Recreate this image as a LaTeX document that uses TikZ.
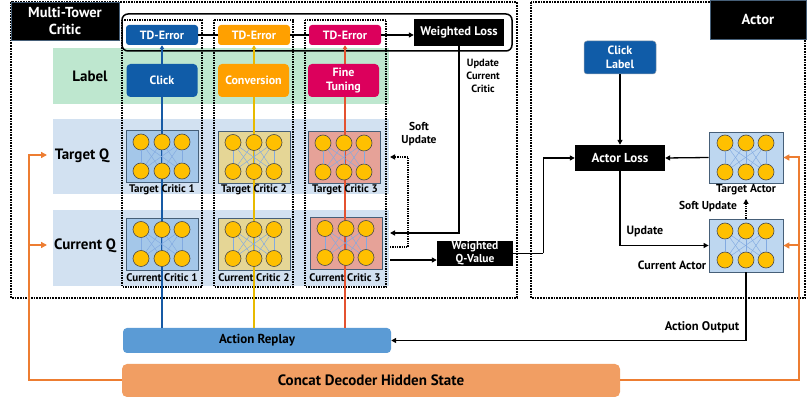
\documentclass[tikz,border=0pt]{standalone}
\usepackage{fontspec}
\setmainfont{PT Sans}
\usetikzlibrary{arrows.meta,calc}

\definecolor{clickblue}{RGB}{16,92,168}
\definecolor{convorange}{RGB}{255,160,0}
\definecolor{finepink}{RGB}{220,0,92}
\definecolor{labelgreen}{RGB}{190,231,207}
\definecolor{bandblue}{RGB}{210,225,241}
\definecolor{nnblue}{RGB}{164,199,233}
\definecolor{nntan}{RGB}{229,214,150}
\definecolor{nnpink}{RGB}{230,162,152}
\definecolor{nnactor}{RGB}{190,215,240}
\definecolor{neuronfill}{RGB}{255,192,0}
\definecolor{wireblue}{RGB}{130,170,225}
\definecolor{replayblue}{RGB}{91,155,213}
\definecolor{concatorange}{RGB}{241,158,99}
\definecolor{feedorange}{RGB}{237,125,49}
\definecolor{towerblue}{RGB}{22,90,165}
\definecolor{toweryellow}{RGB}{232,186,0}
\definecolor{towerred}{RGB}{228,82,48}
\definecolor{nnedge}{RGB}{70,95,120}

% six neurons in two fully connected rows inside a network box
\newcommand{\neurons}[1]{%
  \foreach \dx [count=\i] in {-21,0,20}{%
    \node[neuron] (#1t\i) at ($(#1.center)+(\dx,-14.5)$) {};
    \node[neuron] (#1b\i) at ($(#1.center)+(\dx,14.5)$) {};
  }%
  \foreach \i in {1,2,3}{\foreach \j in {1,2,3}{\draw[wire] (#1t\i) -- (#1b\j);}}%
}

\begin{document}
\begin{tikzpicture}[x=1pt,y=-1pt,
  fs/.style={font=\fontsize{#1}{13}\selectfont\bfseries},
  f10/.style={font=\fontsize{10.5}{13}\selectfont\bfseries},
  f11/.style={font=\fontsize{11}{13}\selectfont\bfseries},
  f12/.style={font=\fontsize{12}{13.5}\selectfont\bfseries},
  f13/.style={font=\fontsize{13}{15}\selectfont\bfseries},
  f14/.style={font=\fontsize{14.5}{17}\selectfont\bfseries},
  f15/.style={font=\fontsize{15}{17}\selectfont\bfseries},
  boxbase/.style={rectangle, inner sep=0pt, align=center, text=white},
  titlebox/.style={boxbase, fill=black, draw=nnedge, line width=0.6pt, f14},
  blackbox/.style={boxbase, fill=black},
  tdbox/.style={boxbase, rounded corners=3pt, minimum width=72, minimum height=20, f12},
  lblbox/.style={boxbase, rounded corners=4pt, minimum width=71, minimum height=33, f12},
  nnbox/.style={rectangle, draw=nnedge, line width=0.8pt, inner sep=0pt, minimum width=72, minimum height=52},
  neuron/.style={circle, fill=neuronfill, draw=black!70, line width=0.6pt, minimum size=16, inner sep=0pt},
  wire/.style={draw=wireblue, line width=0.45pt},
  txt/.style={inner sep=0pt, align=center, text=black},
  outerdot/.style={draw=black, line width=1.7pt, densely dotted},
  towerdot/.style={draw=black, line width=1.5pt, densely dotted},
  plain/.style={draw=black, line width=1.3pt},
  arr/.style={plain, -{Triangle[length=5pt,width=5pt]}},
  dotarr/.style={draw=black, line width=1.3pt, densely dotted, -{Triangle[length=5pt,width=5pt]}},
  towerline/.style={line width=1.6pt, -{Triangle[length=4pt,width=4.5pt]}},
  feed/.style={draw=feedorange, line width=2pt},
  feedarr/.style={feed, -{Triangle[length=6pt,width=6pt]}}
]
\useasboundingbox (0,0) rectangle (807,398);

% row bands of the critic
\fill[labelgreen] (53,48) rectangle (389,104);
\fill[bandblue] (53,119) rectangle (389,194);
\fill[bandblue] (53,210) rectangle (389,286);

% critic and actor regions
\draw[outerdot] (11,2) rectangle (517,298);
\draw[outerdot] (531,2) rectangle (805,298);

% one dotted group per tower
\draw[towerdot] (122,20) rectangle (202,287);
\draw[towerdot] (214,20) rectangle (293,287);
\draw[towerdot] (305,20) rectangle (386,287);

% titles
\node[titlebox, minimum width=108, minimum height=38] (mtc) at (65,21) {Multi-Tower\\Critic};
\node[titlebox, minimum width=96, minimum height=39] (actt) at (758,19.5) {Actor};

% loss frame
\draw[line width=1.5pt, rounded corners=6pt] (122,14) rectangle (512,51);

\node[tdbox, fill=clickblue] (tde1) at (162,35) {TD-Error};
\node[tdbox, fill=convorange] (tde2) at (254,35) {TD-Error};
\node[tdbox, fill=finepink] (tde3) at (345,35) {TD-Error};
\node[blackbox, minimum width=90, minimum height=27, fs=12.5] (wl) at (459,32.5) {Weighted Loss};

% shared inputs
\node[boxbase, fill=replayblue, rounded corners=4pt, minimum width=268, minimum height=25, text=black, f13] (ar) at (257,340.5) {Action Replay};
\node[boxbase, fill=concatorange, rounded corners=5pt, minimum width=498, minimum height=33, text=black, f15] (cd) at (371,380.5) {Concat Decoder Hidden State};

% critic networks
\node[nnbox, fill=nnblue] (tc1) at (162,156.5) {};
\node[nnbox, fill=nnblue] (cc1) at (162,244) {};
\node[nnbox, fill=nntan] (tc2) at (254,157) {};
\node[nnbox, fill=nntan] (cc2) at (254,244) {};
\node[nnbox, fill=nnpink] (tc3) at (344,157.5) {};
\node[nnbox, fill=nnpink] (cc3) at (346,243) {};

% actor networks
\node[nnbox, fill=nnactor, minimum width=74, minimum height=51] (ta) at (746,157.5) {};
\node[nnbox, fill=nnactor, minimum width=74, minimum height=53] (ca) at (746,245.5) {};

% tower data paths
\draw[towerline, towerblue] (ar.north -| tc1) -- (tde1.south);
\draw[towerline, toweryellow] (ar.north -| tc2) -- (tde2.south);
\draw[towerline, towerred] (ar.north -| tde3) -- (tde3.south);

% labels per tower
\node[lblbox, fill=clickblue] (lb1) at (162,80.5) {Click};
\node[lblbox, fill=convorange] (lb2) at (253.5,80.5) {Conversion};
\node[lblbox, fill=finepink] (lb3) at (343.5,80.5) {Fine\\Tuning};

\neurons{tc1}\neurons{cc1}\neurons{tc2}\neurons{cc2}\neurons{tc3}\neurons{cc3}
\neurons{ta}\neurons{ca}

% network captions
\node[txt, f11] (tc1l) at (162,190) {Target Critic 1};
\node[txt, f11] (tc2l) at (254,190) {Target Critic 2};
\node[txt, f11] (tc3l) at (345,190) {Target Critic 3};
\node[txt, f11] (cc1l) at (162,278) {Current Critic 1};
\node[txt, f11] (cc2l) at (254,278) {Current Critic 2};
\node[txt, f11] (cc3l) at (345,278) {Current Critic 3};

% row names
\node[txt, f15] (lbl) at (90,76) {Label};
\node[txt, f15] (tql) at (82,156) {Target Q};
\node[txt, f15] (cql) at (85,246) {Current Q};

% TD errors into the weighted loss
\draw[plain] (tde1.east) -- (tde2.west);
\draw[plain] (tde2.east) -- (tde3.west);
\draw[arr] (tde3.east) -- (wl.west |- tde3.east);

% critic update and soft update
\coordinate (ucin) at (390,233);
\draw[arr] (wl.south) |- (ucin);
\node[txt, f10] (ucl) at (483,76) {Update\\Current\\Critic};
\coordinate (suout) at (390,247);
\coordinate (suin) at (390,157);
\draw[dotarr] (suout) -- ++(18,0) |- (suin);
\node[txt, fs=11.5] (sul) at (419,134) {Soft\\Update};

% weighted Q-value into the actor loss
\node[blackbox, minimum width=76, minimum height=25, fs=11.5] (wq) at (475,253.5) {Weighted\\Q-Value};
\coordinate (wqin) at (390,260);
\draw[arr] (wqin) -- (wqin -| wq.west);

% actor side
\node[boxbase, fill=clickblue, draw=nnedge!60, line width=0.5pt, rounded corners=3pt, minimum width=72, minimum height=33, f12] (cl) at (620,57.5) {Click\\Label};
\node[blackbox, minimum width=90, minimum height=26, f13] (al) at (620,158) {Actor Loss};
\draw[arr] ($(wq.east)+(30,0)$) |- (al.west);
\draw[plain] (wq.east) -- ($(wq.east)+(30,0)$);
\draw[arr] (cl.south) -- (al.north);
\draw[arr] (ta.west) -- (al.east);
\draw[arr] (al.south) |- (ca.west);
\coordinate (sutip) at (746,199);
\draw[dotarr] (ca.north) -- (sutip);
\draw[arr] (ca.south) |- (ar.east);

\node[txt, fs=11.5] (tal) at (746,190) {Target Actor};
\node[txt, fs=11.5] (sua) at (708,207) {Soft Update};
\node[txt, f12] (upd) at (645,232) {Update};
\node[txt, f12] (cal) at (672,265) {Current Actor};
\node[txt, fs=12.5] (aol) at (702,327) {Action Output};

% hidden state fed to both target and current networks
\coordinate (lbus) at (29,155);
\coordinate (tqin) at (47,155);
\coordinate (cqsrc) at (29,245);
\coordinate (cqin) at (47,245);
\draw[feedarr] (cd.west) -| (lbus) -- (tqin);
\draw[feedarr] (cqsrc) -- (cqin);
\draw[feedarr] (cd.east) -| ($(ta.east)+(16,0)$) -- (ta.east);
\draw[feedarr] ($(ca.east)+(16,0)$) -- (ca.east);
\end{tikzpicture}
\end{document}
